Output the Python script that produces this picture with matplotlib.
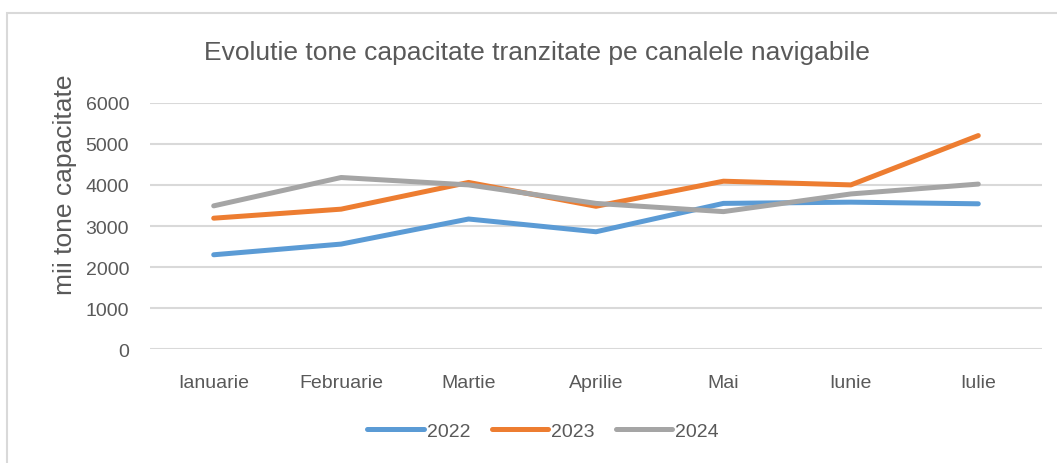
import matplotlib
matplotlib.use("Agg")
import matplotlib.pyplot as plt
from matplotlib.patches import Rectangle

months = ["Ianuarie", "Februarie", "Martie", "Aprilie", "Mai", "Iunie", "Iulie"]
v2022 = [2300, 2560, 3170, 2860, 3550, 3580, 3540]
v2023 = [3190, 3410, 4060, 3480, 4090, 4000, 5200]
v2024 = [3490, 4180, 4000, 3550, 3350, 3780, 4020]
series_labels = ["2022", "2023", "2024"]
yticks = [0, 1000, 2000, 3000, 4000, 5000, 6000]

plt.rcParams['font.family'] = ['Liberation Sans', 'DejaVu Sans']
txt = '#595959'

W, H = 1057, 464
fig = plt.figure(figsize=(W / 100, H / 100), dpi=100)
fig.patch.set_facecolor('white')

# chart border
fig.patches.append(Rectangle((7 / W, -0.1), 1.2, (H - 14) / H + 0.1,
                             transform=fig.transFigure, fill=False,
                             edgecolor='#d9d9d9', linewidth=1.5, zorder=0))

left, right = 150 / W, 1042 / W
bottom, top = 1 - 350.3 / H, 1 - 103.7 / H
ax = fig.add_axes([left, bottom, right - left, top - bottom])

x = list(range(len(months)))
colors = ['#5b9bd5', '#ed7d31', '#a5a5a5']
for vals, c, lab in zip([v2022, v2023, v2024], colors, series_labels):
    ax.plot(x, vals, color=c, linewidth=3.6, solid_capstyle='round',
            solid_joinstyle='round', label=lab, zorder=3)

ax.set_xlim(-0.5, len(months) - 0.5)
ax.set_ylim(0, 6000)
ax.set_yticks(yticks)
ax.set_yticklabels([str(t) for t in yticks])
ax.set_xticks(x)
ax.set_xticklabels(months)
ax.grid(axis='y', color='#d9d9d9', linewidth=1.5)
ax.set_axisbelow(True)
for s in ax.spines.values():
    s.set_visible(False)
ax.tick_params(axis='both', length=0, labelsize=14, colors=txt)
ax.tick_params(axis='x', pad=18)
ax.tick_params(axis='y', pad=15)

fig.text(537 / W, 1 - 53 / H, "Evolutie tone capacitate tranzitate pe canalele navigabile",
         ha='center', va='center', fontsize=19, color=txt)
fig.text(65 / W, 1 - 185 / H, "mii tone capacitate", rotation=90,
         ha='center', va='center', fontsize=19, color=txt)

leg = fig.legend(loc='center', bbox_to_anchor=(543 / W, 1 - 432 / H), ncol=3,
                 frameon=False, fontsize=14, handlelength=2.9, handletextpad=0.15,
                 columnspacing=1.1)
for t in leg.get_texts():
    t.set_color(txt)
for h in leg.legend_handles:
    h.set_solid_capstyle('round')

fig.savefig("out.png", dpi=100)
